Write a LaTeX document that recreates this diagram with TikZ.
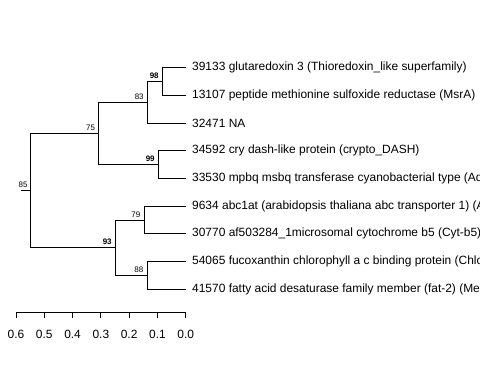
\documentclass[tikz,border=0pt]{standalone}
\usepackage{fontspec}
\setmainfont{Liberation Sans}
\begin{document}
\begin{tikzpicture}[x=1bp,y=-1bp,
  edge/.style={draw=black,line width=0.8bp},
  leaflabel/.style={anchor=west,inner sep=0pt,font=\fontsize{12}{14}\selectfont},
  bs/.style={anchor=south east,inner sep=0pt,font=\fontsize{8}{9}\selectfont},
  bsb/.style={bs,font=\fontsize{8}{9}\selectfont\bfseries},
  ticklabel/.style={inner sep=0pt,font=\fontsize{12}{14}\selectfont}]
\useasboundingbox (0,0) rectangle (480,384);
\clip (0,0) rectangle (480,384);
% leaf tips
\foreach \i/\y in {1/67.5,2/95.2,3/122.9,4/150.7,5/178.4,6/206.1,7/233.8,8/261.5,9/289.3}{
  \coordinate (t\i) at (185.7,\y);
}
\node[leaflabel] (l1) at (192,67.5) {39133 glutaredoxin 3 (Thioredoxin\_like superfamily)};
\node[leaflabel] (l2) at (192,95.2) {13107 peptide methionine sulfoxide reductase (MsrA)};
\node[leaflabel] (l3) at (192,122.9) {32471 NA};
\node[leaflabel] (l4) at (192,150.7) {34592 cry dash-like protein (crypto\_DASH)};
\node[leaflabel] (l5) at (192,178.4) {33530 mpbq msbq transferase cyanobacterial type (Ado};
\node[leaflabel] (l6) at (192,206.1) {9634 abc1at (arabidopsis thaliana abc transporter 1) (A};
\node[leaflabel] (l7) at (192,233.8) {30770 af503284\_1microsomal cytochrome b5 (Cyt-b5)};
\node[leaflabel] (l8) at (192,261.5) {54065 fucoxanthin chlorophyll a c binding protein (Chlo};
\node[leaflabel] (l9) at (192,289.3) {41570 fatty acid desaturase family member (fat-2) (Me};
% internal nodes
\coordinate (n98) at (162.3,81.35);
\coordinate (n83) at (147.3,102.1);
\coordinate (n99) at (158.3,164.55);
\coordinate (n75) at (98.7,133.3);
\coordinate (n79) at (144,219.95);
\coordinate (n88) at (147,275.4);
\coordinate (n93) at (115.3,247.7);
\coordinate (n85) at (30.7,190.5);
\coordinate (root) at (20.7,190.5);
% edges
\path[edge] (n98) |- (t1) (n98) |- (t2);
\path[edge] (n83) |- (n98) (n83) |- (t3);
\path[edge] (n99) |- (t4) (n99) |- (t5);
\path[edge] (n75) |- (n83) (n75) |- (n99);
\path[edge] (n79) |- (t6) (n79) |- (t7);
\path[edge] (n88) |- (t8) (n88) |- (t9);
\path[edge] (n93) |- (n79) (n93) |- (n88);
\path[edge] (n85) |- (n75) (n85) |- (n93);
\path[edge] (root) -- (n85);
% bootstrap labels
\node[bsb] (b98) at ([xshift=-3.5,yshift=2.5]n98) {98};
\node[bs] (b83) at ([xshift=-3.5,yshift=2.5]n83) {83};
\node[bsb] (b99) at ([xshift=-3.5,yshift=2.5]n99) {99};
\node[bs] (b75) at ([xshift=-3.5,yshift=2.5]n75) {75};
\node[bs] (b79) at ([xshift=-3.5,yshift=2.5]n79) {79};
\node[bs] (b88) at ([xshift=-3.5,yshift=2.5]n88) {88};
\node[bsb] (b93) at ([xshift=-3.5,yshift=2.5]n93) {93};
\node[bs] (b85) at ([xshift=-3,yshift=2.5]n85) {85};
% axis
\coordinate (a0) at (16,312.7);
\coordinate (a1) at (185.7,312.7);
\path[edge] (a0) -- (a1);
\foreach \k/\lab in {0/0.6,1/0.5,2/0.4,3/0.3,4/0.2,5/0.1,6/0.0}{
  \coordinate (tk\k) at ({16+\k*28.283},312.7);
  \path[edge] (tk\k) -- ++(0,5.6);
  \node[ticklabel] (tl\k) at ({16+\k*28.283},334) {\lab};
}
\end{tikzpicture}
\end{document}
